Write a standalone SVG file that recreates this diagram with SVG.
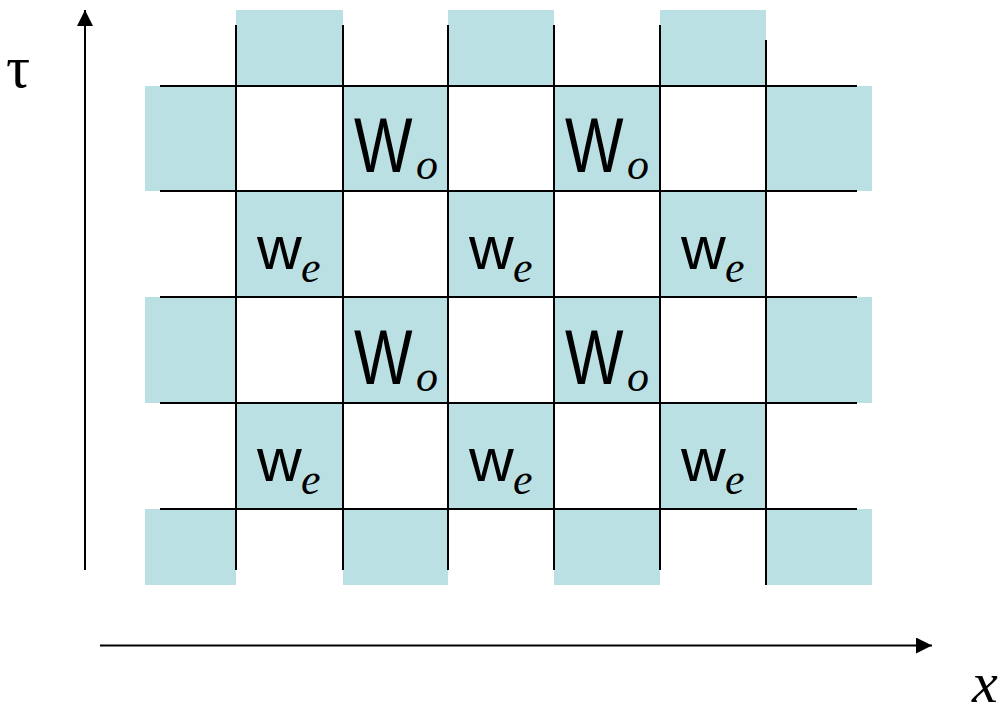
<svg xmlns="http://www.w3.org/2000/svg" width="1005" height="707" viewBox="0 0 1005 707">
<defs>
<style>
.t{fill:#bbe0e3}
.g{stroke:#000;stroke-width:2;fill:none}
.ax{stroke:#000;stroke-width:2;fill:none}
.W{font-family:'Liberation Sans',Arial,sans-serif;font-size:62px;fill:#000}
.s{font-family:'Liberation Serif','Times New Roman',Times,serif;font-style:italic;font-size:44px;fill:#000}
.lab{font-family:'Liberation Serif','Times New Roman',Times,serif;fill:#000}
</style>
<marker id="ah" markerWidth="16" markerHeight="16" refX="16" refY="8" orient="auto" markerUnits="userSpaceOnUse">
<path d="M0,0 L16,8 L0,16 Z" fill="#000"/>
</marker>
</defs>
<rect width="1005" height="707" fill="#fff"/>
<g id="cells">
<rect class="t" x="236" y="10" width="107" height="76"/>
<rect class="t" x="448" y="10" width="106" height="76"/>
<rect class="t" x="660" y="10" width="106" height="76"/>
<rect class="t" x="145" y="86" width="91" height="105"/>
<rect class="t" x="343" y="86" width="105" height="105"/>
<rect class="t" x="554" y="86" width="106" height="105"/>
<rect class="t" x="766" y="86" width="106" height="105"/>
<rect class="t" x="236" y="191" width="107" height="106"/>
<rect class="t" x="448" y="191" width="106" height="106"/>
<rect class="t" x="660" y="191" width="106" height="106"/>
<rect class="t" x="145" y="297" width="91" height="106"/>
<rect class="t" x="343" y="297" width="105" height="106"/>
<rect class="t" x="554" y="297" width="106" height="106"/>
<rect class="t" x="766" y="297" width="106" height="106"/>
<rect class="t" x="236" y="403" width="107" height="106"/>
<rect class="t" x="448" y="403" width="106" height="106"/>
<rect class="t" x="660" y="403" width="106" height="106"/>
<rect class="t" x="145" y="509" width="91" height="76"/>
<rect class="t" x="343" y="509" width="105" height="76"/>
<rect class="t" x="554" y="509" width="106" height="76"/>
<rect class="t" x="766" y="509" width="106" height="76"/>
</g>
<g id="connectors">
<path class="g" d="M160,86H857M160,191H857M160,297H857M160,403H857M160,509H857"/>
<path class="g" d="M236,25V570M343,25V570M448,25V570M554,25V570M660,25V570M766,40V585"/>
<line class="ax" x1="85" y1="570" x2="85" y2="10" marker-end="url(#ah)"/>
<line class="ax" x1="100" y1="645.5" x2="932" y2="645.5" marker-end="url(#ah)"/>
</g>
<g id="node-Wo-1"><text class="W" transform="translate(354,172) scale(1,1.25)">W</text><text class="s" x="416" y="179">o</text></g>
<g id="node-Wo-2"><text class="W" transform="translate(565,172) scale(1,1.25)">W</text><text class="s" x="627" y="179">o</text></g>
<g id="node-Wo-3"><text class="W" transform="translate(354,384) scale(1,1.25)">W</text><text class="s" x="416" y="391">o</text></g>
<g id="node-Wo-4"><text class="W" transform="translate(565,384) scale(1,1.25)">W</text><text class="s" x="627" y="391">o</text></g>
<g id="node-we-1"><text class="W" x="257" y="269">w</text><text class="s" x="301" y="282">e</text></g>
<g id="node-we-2"><text class="W" x="469" y="269">w</text><text class="s" x="513" y="282">e</text></g>
<g id="node-we-3"><text class="W" x="681" y="269">w</text><text class="s" x="725" y="282">e</text></g>
<g id="node-we-4"><text class="W" x="257" y="481">w</text><text class="s" x="301" y="494">e</text></g>
<g id="node-we-5"><text class="W" x="469" y="481">w</text><text class="s" x="513" y="494">e</text></g>
<g id="node-we-6"><text class="W" x="681" y="481">w</text><text class="s" x="725" y="494">e</text></g>
<g id="axis-labels">
<text class="lab" x="6" y="87" font-size="60">τ</text>
<text class="lab" x="972" y="702" font-size="58" font-style="italic">x</text>
</g>
</svg>
